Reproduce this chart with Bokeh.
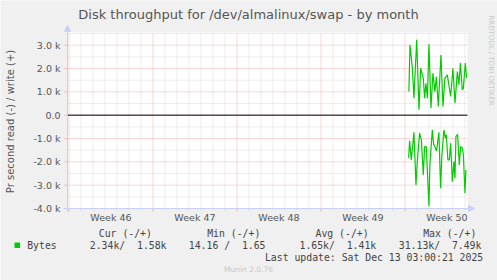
import math
from bokeh.plotting import figure
from bokeh.models import Range1d, Label, Arrow, NormalHead, BoxAnnotation
from bokeh.embed import file_html
from bokeh.resources import INLINE

# ---------------- data ----------------
# time in days since Monday of week 46
week_lines = [0, 7, 14, 21, 28]
week_label_pos = [3.5, 10.5, 17.5, 24.5, 31.5]
week_labels = ["Week 46", "Week 47", "Week 48", "Week 49", "Week 50"]
day_lines = [d for d in range(1, 34) if d % 7 != 0]

y_ticks = [-4000, -3000, -2000, -1000, 0, 1000, 2000, 3000]
y_tick_labels = ["-4.0 k", "-3.0 k", "-2.0 k", "-1.0 k", "0.0", "1.0 k", "2.0 k", "3.0 k"]
y_minor = [-3500, -2500, -1500, -500, 500, 1500, 2500, 3500]

# write (+) bytes per second
write_day = [28.33, 28.42, 28.62, 28.75, 28.98, 29.17, 29.31, 29.53, 29.64, 29.75,
             29.87, 30.00, 30.17, 30.33, 30.50, 30.62, 30.78, 31.00, 31.17, 31.33,
             31.53, 31.81, 32.00, 32.17, 32.37, 32.50, 32.62, 32.78, 32.87, 33.03, 33.14]
write_val = [1010, 3010, 2010, 730, 3230, 230, 2010, 1590, 730, 1370,
             730, 3040, 300, 1800, 1010, 1650, 370, 2580, 370, 1590,
             1730, 800, 2010, 510, 1870, 1300, 2230, 1080, 1160, 2230, 1590]

# read (-) bytes per second, drawn below zero
read_day = [28.31, 28.39, 28.53, 28.75, 28.92, 29.03, 29.22, 29.37, 29.53, 29.64,
            29.78, 30.00, 30.08, 30.28, 30.39, 30.50, 30.62, 30.70, 30.83, 30.97,
            31.08, 31.25, 31.37, 31.45, 31.58, 31.70, 31.81, 31.95, 32.08, 32.17,
            32.25, 32.39, 32.53, 32.64, 32.78, 32.87, 33.00, 33.08]
read_val = [1840, 1100, 1920, 730, 2990, 1990, 770, 1060, 2560, 1350,
            1350, 3900, 2130, 630, 1240, 1350, 1530, 1270, 730, 3130,
            1700, 630, 990, 840, 1920, 1920, 1200, 2850, 1990, 2700,
            920, 820, 2130, 1350, 1410, 1700, 3340, 2340]

title = "Disk throughput for /dev/almalinux/swap - by month"
y_title = "Pr second read (-) / write (+)"
side_text = "RRDTOOL / TOBI OETIKER"
legend_heads = ["Cur (-/+)", "Min (-/+)", "Avg (-/+)", "Max (-/+)"]
series_name = "Bytes"
legend_vals = [("2.34k/", "1.58k"), ("14.16 /", "1.65"), ("1.65k/", "1.41k"), ("31.13k/", "7.49k")]
last_update = "Last update: Sat Dec 13 03:00:21 2025"
footer = "Munin 2.0.76"

# ---------------- geometry (canvas pixels) ----------------
W, H = 497, 280
FL, FT, FW, FH = 67, 32, 400, 176          # plot area
FB = FT + FH
PX_DAY = 12.0
PX_K = 23.333
x0 = -0.12                                   # day value at left edge of plot area
y0 = -4000.0                                 # value at bottom edge of plot area
x1 = x0 + FW / PX_DAY
y1 = y0 + FH * 1000 / PX_K

def dx(X):
    return x0 + (X - FL) / PX_DAY

def dy(Y):
    return y0 + (FB - Y) * 1000 / PX_K

# the frame covers the whole canvas, so that texts outside the plot area show
p = figure(width=W, height=H, output_backend="svg", toolbar_location=None,
           x_range=Range1d(dx(0), dx(W)), y_range=Range1d(dy(H), dy(0)),
           min_border=0, x_axis_type=None, y_axis_type=None)
p.background_fill_color = "#F0F0F0"
p.border_fill_color = "#F0F0F0"
p.outline_line_color = None
p.xgrid.visible = False
p.ygrid.visible = False

MONO = "DejaVu Sans Mono"
SANS = "DejaVu Sans"
GRID_MINOR = "#DADADA"
GRID_MAJOR = "#F4B0B0"
AXIS_C = "#C9D0F5"
GREEN = "#00CC00"

# plot area
p.add_layout(BoxAnnotation(left=x0, right=x1, bottom=y0, top=y1,
                           fill_color="white", fill_alpha=1, line_color=None,
                           level="underlay"))

# grid (minor then major)
p.segment(x0=day_lines, y0=[y0] * len(day_lines), x1=day_lines, y1=[y1] * len(day_lines),
          line_color=GRID_MINOR, line_width=1, line_dash="1 1")
p.segment(x0=[x0] * len(y_minor), y0=y_minor, x1=[x1] * len(y_minor), y1=y_minor,
          line_color=GRID_MINOR, line_width=1, line_dash="1 1")
p.segment(x0=week_lines, y0=[y0] * len(week_lines), x1=week_lines, y1=[y1] * len(week_lines),
          line_color=GRID_MAJOR, line_width=1, line_dash="1 1")
p.segment(x0=[x0] * len(y_ticks), y0=y_ticks, x1=[x1] * len(y_ticks), y1=y_ticks,
          line_color=GRID_MAJOR, line_width=1, line_dash="1 1")

# small tick marks outside the axes
p.segment(x0=week_lines, y0=[y0] * len(week_lines), x1=week_lines,
          y1=[dy(FB + 3)] * len(week_lines), line_color=GRID_MAJOR, line_width=1)
p.segment(x0=day_lines, y0=[y0] * len(day_lines), x1=day_lines,
          y1=[dy(FB + 2)] * len(day_lines), line_color=GRID_MINOR, line_width=1)
p.segment(x0=[dx(FL - 3)] * len(y_ticks), y0=y_ticks, x1=[x0] * len(y_ticks), y1=y_ticks,
          line_color=GRID_MAJOR, line_width=1)

# zero line
p.segment(x0=[x0], y0=[0], x1=[x1], y1=[0], line_color="black", line_width=1)

# axes with arrows
p.add_layout(Arrow(x_start=dx(FL - 4), y_start=y0, x_end=dx(474), y_end=y0,
                   line_color=AXIS_C, line_width=1,
                   end=NormalHead(size=6, fill_color=AXIS_C, line_color=AXIS_C)))
p.add_layout(Arrow(x_start=x0, y_start=dy(FB + 3), x_end=x0, y_end=dy(25),
                   line_color=AXIS_C, line_width=1,
                   end=NormalHead(size=6, fill_color=AXIS_C, line_color=AXIS_C)))

# series
p.line(write_day, write_val, line_color=GREEN, line_width=1.2)
p.line(read_day, [-v for v in read_val], line_color=GREEN, line_width=1.2)

# ---------------- texts ----------------
def lab(X, Y, text, font=SANS, size="9.5px", color="#444444", align="left",
        baseline="middle", angle=0.0):
    p.add_layout(Label(x=X, y=H - Y, x_units="screen", y_units="screen",
                       text=text, text_font=font, text_font_size=size,
                       text_color=color, text_align=align, text_baseline=baseline,
                       angle=angle))

# tick labels
for t, l in zip(y_ticks, y_tick_labels):
    p.add_layout(Label(x=dx(60), y=t, text=l, text_font=SANS, text_font_size="9.5px",
                       text_color="#555555", text_align="right", text_baseline="middle"))
for t, l in zip(week_label_pos, week_labels):
    p.add_layout(Label(x=t, y=dy(217), text=l, text_font=SANS, text_font_size="9.5px",
                       text_color="#555555", text_align="center", text_baseline="middle"))

lab(248, 13.5, title, size="13px", color="#555555", align="center")
lab(10, 121, y_title, size="10px", color="#555555", align="center", angle=math.pi / 2)
lab(490, 60, side_text, size="7px", color="#C8C8C8", align="center", angle=-math.pi / 2)

head_x = [98.3, 206.7, 315.0, 422.7]
for hx, h in zip(head_x, legend_heads):
    lab(hx, 233, h, font=MONO, size="9.8px")

cw = 5.9
val_x = [89.3, 188.3, 299.0, 398.3]
val_gap = [8, 9, 8, 9]
for vx, g, (a, b) in zip(val_x, val_gap, legend_vals):
    lab(vx, 244.5, a, font=MONO, size="9.8px")
    lab(vx + g * cw, 244.5, b, font=MONO, size="9.8px")
lab(26.7, 244.5, series_name, font=MONO, size="9.8px")
lab(482.7, 256.7, last_update, font=MONO, size="9.8px", align="right")
lab(248, 269.3, footer, size="7.5px", color="#C8C8C8", align="center")

# legend colour box
p.add_layout(BoxAnnotation(left=dx(14), right=dx(19.5), bottom=dy(247.5), top=dy(242),
                           fill_color=GREEN, fill_alpha=1, line_color=None))

open("out.html", "w").write(file_html(p, INLINE))
